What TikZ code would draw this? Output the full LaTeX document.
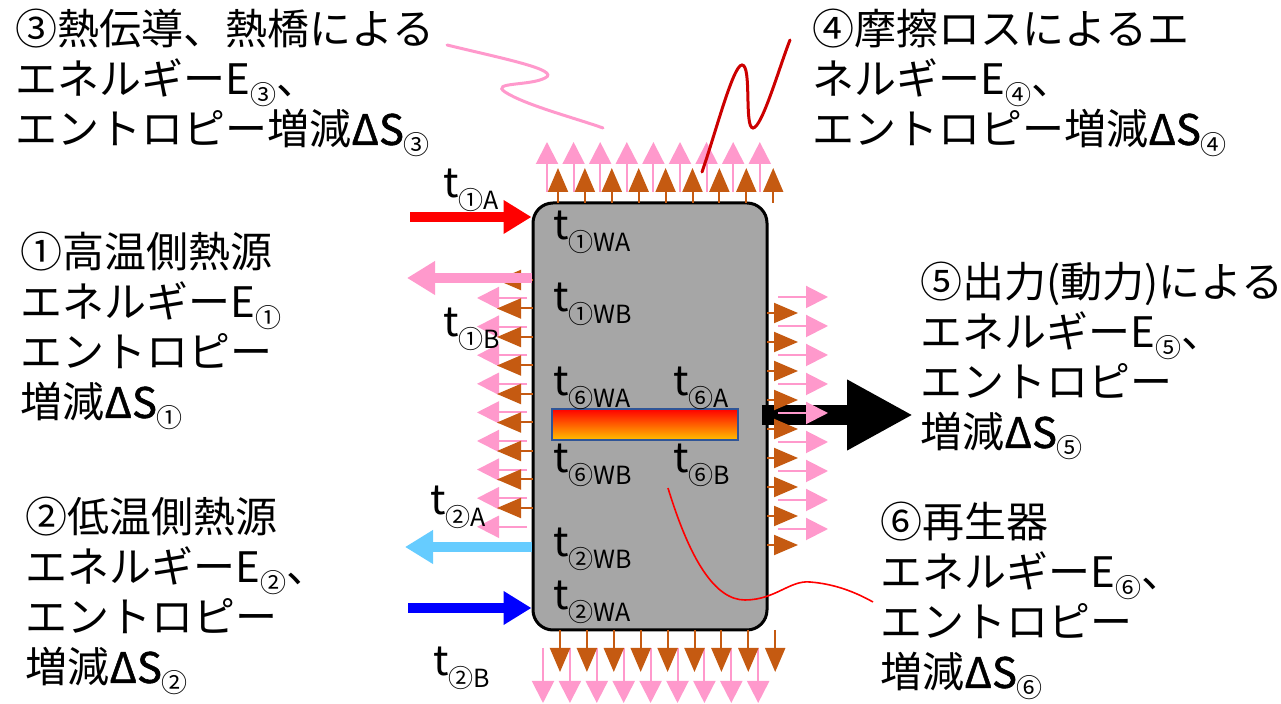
\documentclass[tikz,border=0pt]{standalone}
\usepackage{fontspec}
\setmainfont{Noto Sans CJK JP}
\newfontfamily\dsfont{Noto Sans CJK JP}[FakeBold=1.2]
\usetikzlibrary{arrows.meta}
\definecolor{boxgray}{HTML}{A6A6A6}
\definecolor{brn}{HTML}{C55A11}
\definecolor{pnk}{HTML}{FF99CC}
\definecolor{lblue}{HTML}{66CCFF}
\definecolor{regblue}{HTML}{2F5597}
\definecolor{regtop}{HTML}{FF0000}
\definecolor{regbot}{HTML}{FFC000}
\newcommand\mysub[1]{\raisebox{-5pt}{\fontsize{13}{13}\selectfont #1}}
\newcommand\tsub[1]{\raisebox{-6pt}{\fontsize{12.5}{12.5}\selectfont #1}}
\newcommand\dS{{\dsfont ΔS}}
\begin{document}
\begin{tikzpicture}[x=0.5pt,y=-0.5pt,
  desc/.style={anchor=north west, inner sep=0pt, align=left, font=\fontsize{21}{25}\selectfont},
  tl/.style={anchor=base west, inner sep=0pt, font=\fontsize{20.5}{24}\selectfont},
  brnarr/.style={draw=brn, line width=1pt, -{Triangle[width=10pt,length=12pt]}},
  pnkarr/.style={draw=pnk, line width=1pt, -{Triangle[width=11pt,length=11pt]}},
  fatarr/.style={line width=5pt, -{Triangle[width=16pt,length=14pt]}},
  boxst/.style={draw=black, line width=1.5pt, fill=boxgray, rounded corners=10pt, minimum width=117pt, minimum height=213.5pt, inner sep=0pt},
  regst/.style={draw=regblue, line width=1pt, top color=regtop, bottom color=regbot, minimum width=93pt, minimum height=15.5pt, inner sep=0pt},
  wave/.style={line width=1.5pt, line cap=round}
]
\useasboundingbox (0,0) rectangle (1281,704);

% main box
\node[boxst] (box) at (650,416.5) {};

% black output arrow
\coordinate (bkS) at (762,415);
\coordinate (bkE) at (913,415);
\draw[line width=10pt, -{Triangle[width=33pt,length=33pt]}] (bkS) -- (bkE);

% top arrows
\foreach \i in {0,...,8} {
  \pgfmathsetmacro\xx{547+26.6*\i}
  \draw[pnkarr] (\xx,192) -- (\xx,142);
}
\foreach \i in {0,...,8} {
  \pgfmathsetmacro\xx{558+26.9*\i}
  \draw[brnarr] (\xx,203) -- (\xx,168);
}
% bottom arrows
\foreach \i in {0,...,8} {
  \pgfmathsetmacro\xx{543+26.9*\i}
  \draw[pnkarr] (\xx,648) -- (\xx,703);
}
\foreach \i in {0,...,8} {
  \pgfmathsetmacro\xx{560+26.9*\i}
  \draw[brnarr] (\xx,630) -- (\xx,672);
}
% left arrows
\foreach \i in {0,...,8} {
  \pgfmathsetmacro\yy{298+28.6*\i}
  \draw[pnkarr] (527,\yy) -- (477,\yy);
}
\foreach \i in {0,...,8} {
  \pgfmathsetmacro\yy{280+28.5*\i}
  \draw[brnarr] (533,\yy) -- (497,\yy);
}
% right arrows
\foreach \i in {0,...,8} {
  \pgfmathsetmacro\yy{297+29*\i}
  \draw[pnkarr] (778,\yy) -- (828,\yy);
}
\foreach \i in {0,...,8} {
  \pgfmathsetmacro\yy{313+29*\i}
  \draw[brnarr] (767,\yy) -- (798,\yy);
}

% fat arrows
\coordinate (redS) at (410,217);
\draw[fatarr, red] (redS) -- (box.west |- redS);
\coordinate (pkE) at (407,278);
\draw[fatarr, pnk] (box.west |- pkE) -- (pkE);
\coordinate (lbE) at (405,547);
\draw[fatarr, lblue] (box.west |- lbE) -- (lbE);
\coordinate (blS) at (408,608);
\draw[fatarr, blue] (blS) -- (box.west |- blS);

% regenerator
\node[regst] (regen) at (645,424.5) {};

% temperature labels
\node[tl] (t1A) at (443,198) {t\tsub{①A}};
\node[tl] (t1WA) at (553,240) {t\tsub{①WA}};
\node[tl] (t1WB) at (553,312) {t\tsub{①WB}};
\node[tl] (t1B) at (443,337) {t\tsub{①B}};
\node[tl] (t6WA) at (553,396) {t\tsub{⑥WA}};
\node[tl] (t6A) at (673,396) {t\tsub{⑥A}};
\node[tl] (t6WB) at (553,473) {t\tsub{⑥WB}};
\node[tl] (t6B) at (673,473) {t\tsub{⑥B}};
\node[tl] (t2A) at (430,515) {t\tsub{②A}};
\node[tl] (t2WB) at (553,557) {t\tsub{②WB}};
\node[tl] (t2WA) at (553,610) {t\tsub{②WA}};
\node[tl] (t2B) at (433,676) {t\tsub{②B}};

% descriptions
\node[desc] (d3) at (15,9) {③熱伝導、熱橋による\\エネルギーE\mysub{③}、\\エントロピー増減\dS\mysub{③}};
\node[desc] (d4) at (812,9) {④摩擦ロスによるエ\\ネルギーE\mysub{④}、\\エントロピー増減\dS\mysub{④}};
\node[desc] (d1) at (20,232) {①高温側熱源\\エネルギーE\mysub{①}\\エントロピー\\増減\dS\mysub{①}};
\node[desc] (d2) at (25,497) {②低温側熱源\\エネルギーE\mysub{②}、\\エントロピー\\増減\dS\mysub{②}};
\node[desc] (d5) at (920,262) {⑤出力(動力)による\\エネルギーE\mysub{⑤}、\\エントロピー\\増減\dS\mysub{⑤}};
\node[desc] (d6) at (880,502) {⑥再生器\\エネルギーE\mysub{⑥}、\\エントロピー\\増減\dS\mysub{⑥}};

% leader curves
\draw[wave, pnk] (447,45) .. controls (500,58) and (562,70) .. (545,78)
  .. controls (530,86) and (490,82) .. (505,92)
  .. controls (525,105) and (575,118) .. (603,128);
\draw[wave, red!80!black] (702,172) .. controls (715,135) and (733,65) .. (742,65)
  .. controls (752,65) and (744,128) .. (753,128)
  .. controls (762,128) and (780,65) .. (790,40);
\draw[red, line width=0.8pt] (668,488) .. controls (690,560) and (715,600) .. (745,600)
  .. controls (775,600) and (790,580) .. (810,582)
  .. controls (835,584) and (855,592) .. (873,602);
\end{tikzpicture}
\end{document}
